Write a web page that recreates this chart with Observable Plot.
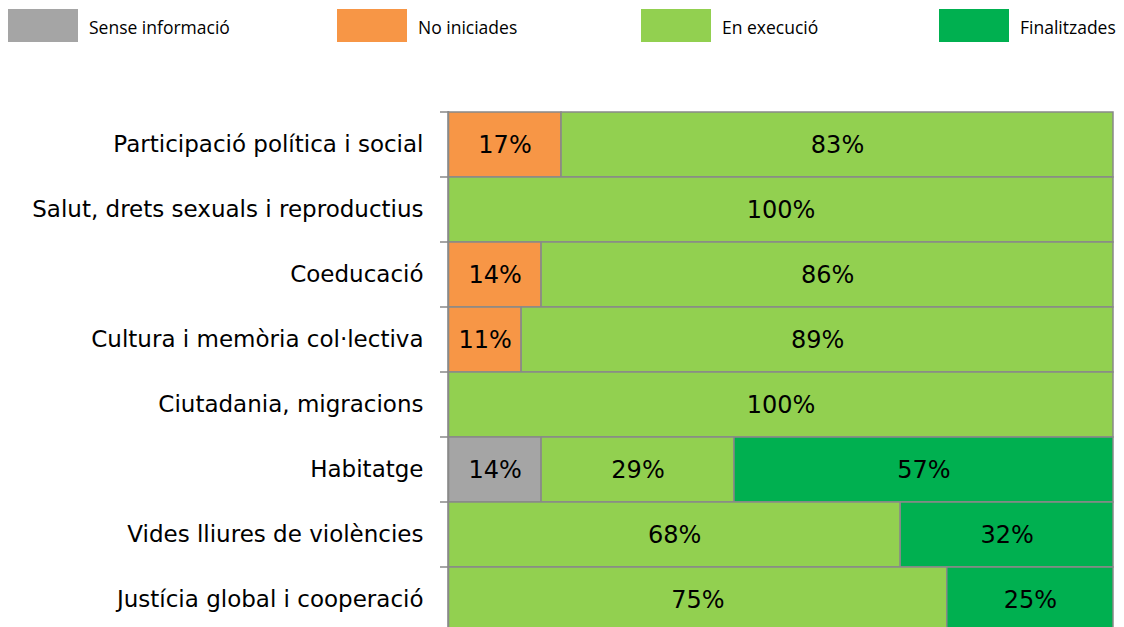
<!DOCTYPE html>
<html>
<head>
<meta charset="utf-8">
<script src="https://cdn.jsdelivr.net/npm/d3@7"></script>
<script src="https://cdn.jsdelivr.net/npm/@observablehq/plot@0.6"></script>
<style>
  html, body { margin: 0; padding: 0; background: #fff; overflow: hidden; }
  #legend { position: relative; height: 50px; width: 1124px; font-family: "Liberation Sans Narrow", "Open Sans", sans-serif; font-size: 17.5px; color: #000; }
  .item { position: absolute; top: 9px; height: 33px; display: flex; align-items: center; }
  .item span { position: relative; top: 1px; }
  .sw { width: 70px; height: 33px; margin-right: 11px; }
  #chart { height: 577px; width: 1124px; overflow: hidden; }
</style>
</head>
<body>
<div id="legend"></div>
<div id="chart"></div>
<script>
const categories = [
  "Participació política i social",
  "Salut, drets sexuals i reproductius",
  "Coeducació",
  "Cultura i memòria col·lectiva",
  "Ciutadania, migracions",
  "Habitatge",
  "Vides lliures de violències",
  "Justícia global i cooperació"
];
const statuses = ["Sense informació", "No iniciades", "En execució", "Finalitzades"];
const colors = ["#A5A5A5", "#F79646", "#92D050", "#00B050"];
const senseInformacio = [0, 0, 0, 0, 0, 14, 0, 0];
const noIniciades     = [17, 0, 14, 11, 0, 0, 0, 0];
const enExecucio      = [83, 100, 86, 89, 100, 29, 68, 75];
const finalitzades    = [0, 0, 0, 0, 0, 57, 32, 25];
const legendX = [8, 337, 641, 939];

const series = [senseInformacio, noIniciades, enExecucio, finalitzades];
const data = [];
categories.forEach((c, i) => {
  series.forEach((s, j) => {
    if (s[i] > 0) data.push({category: c, status: statuses[j], value: s[i]});
  });
});

// legend
const legend = document.getElementById("legend");
statuses.forEach((s, j) => {
  const it = document.createElement("div");
  it.className = "item";
  it.style.left = legendX[j] + "px";
  it.innerHTML = `<div class="sw" style="background:${colors[j]}"></div><span>${s}</span>`;
  legend.appendChild(it);
});

const plot = Plot.plot({
  width: 1124,
  height: 583,
  marginTop: 61,
  marginBottom: 0,
  marginLeft: 448,
  marginRight: 11,
  x: {domain: [0, 100], axis: null},
  y: {domain: categories, padding: 0, label: null, tickSize: 0, tickPadding: 25},
  color: {domain: statuses, range: colors},
  style: {fontFamily: "DejaVu Sans, sans-serif", fontSize: "23px", color: "#000"},
  marks: [
    Plot.barX(data, Plot.stackX({order: statuses, x: "value", y: "category", fill: "status", stroke: "#898989", strokeWidth: 1.5, inset: 0})),
    Plot.text(data, Plot.stackX({order: statuses, x: "value", y: "category", z: "status", text: d => d.value + "%", fill: "#000", fontSize: 24, fontFamily: "DejaVu Sans, sans-serif"})),
    Plot.ruleX([0], {stroke: "#898989", strokeWidth: 1.5})
  ]
});
document.getElementById("chart").appendChild(plot);

// category-boundary tick marks (Excel-style)
const ys = plot.scale("y");
const bw = ys.bandwidth;
const bounds = categories.map(c => ys.apply(c)).concat([ys.apply(categories[categories.length - 1]) + bw]);
const x0 = plot.scale("x").apply(0);
d3.select(plot).append("g")
  .selectAll("line").data(bounds).join("line")
  .attr("x1", x0 - 8).attr("x2", x0)
  .attr("y1", d => d).attr("y2", d => d)
  .attr("stroke", "#898989").attr("stroke-width", 1.5);
</script>
</body>
</html>
